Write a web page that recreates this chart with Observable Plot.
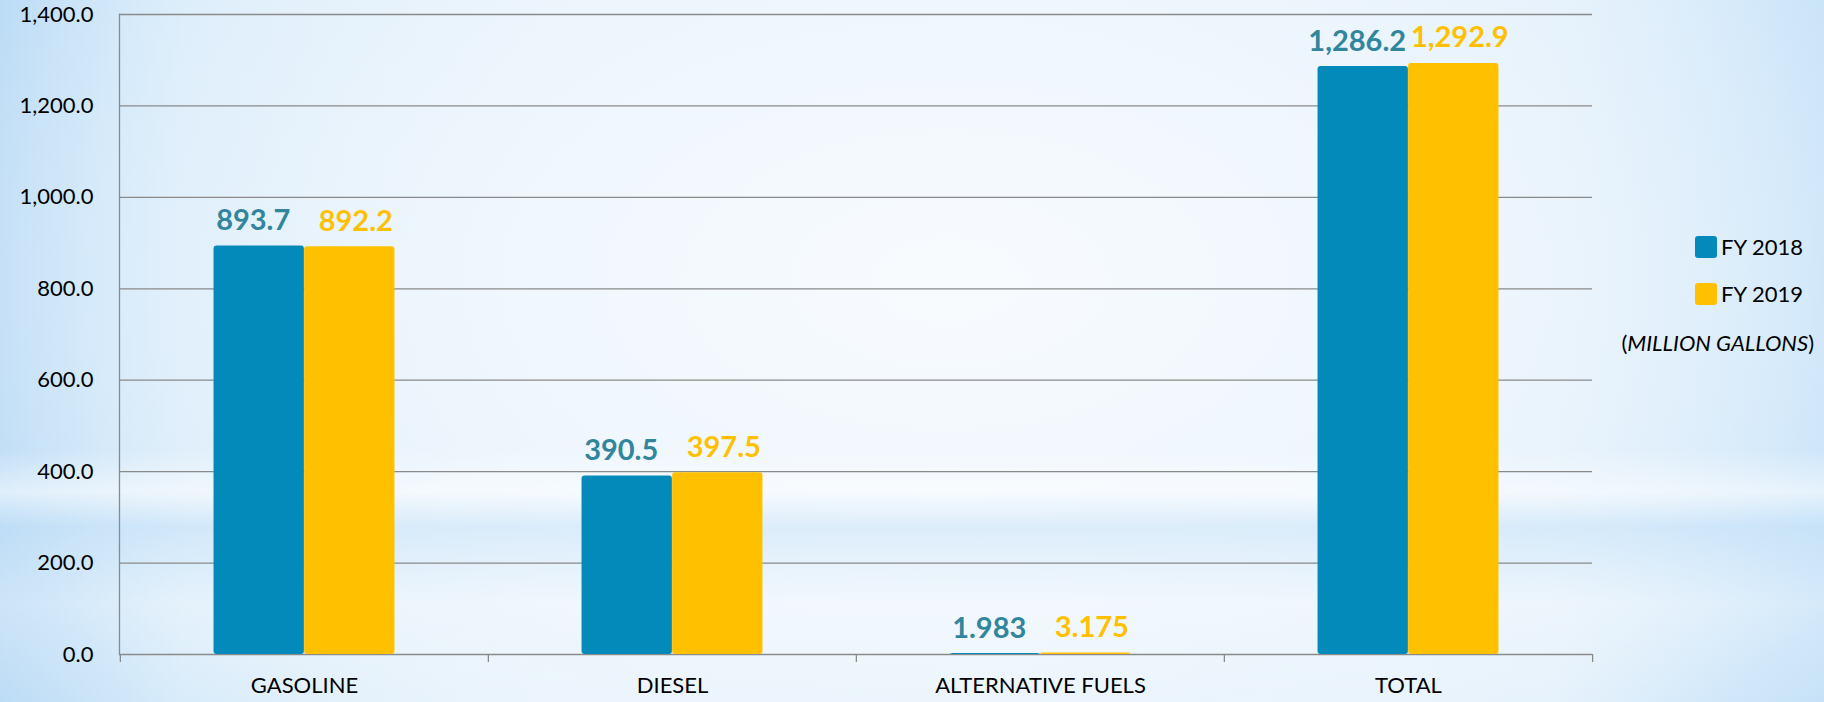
<!DOCTYPE html>
<html>
<head>
<meta charset="utf-8">
<script src="https://cdn.jsdelivr.net/npm/d3@7"></script>
<script src="https://cdn.jsdelivr.net/npm/@observablehq/plot@0.6"></script>
<style>
  html, body { margin: 0; padding: 0; }
  #wrap {
    position: relative; width: 1824px; height: 702px; overflow: hidden;
    font-family: Lato, "Open Sans", sans-serif;
    background:
      linear-gradient(180deg, rgba(255,255,255,0) 0%, rgba(255,255,255,0) 64%, rgba(255,255,255,0.5) 70%, rgba(190,222,247,0.4) 75%, rgba(255,255,255,0.25) 86%, rgba(255,255,255,0) 100%),
      radial-gradient(ellipse 58% 85% at 52% 40%, #f8fbfe 0%, #f0f7fd 40%, rgba(232,243,252,0.6) 70%, rgba(232,243,252,0) 100%),
      linear-gradient(90deg, #bcdcf6 0%, #d9ecfa 10%, #eef6fd 30%, #f3f9fe 55%, #e6f2fc 85%, #c6e2f8 100%);
  }
  #chart { position: absolute; left: 0; top: 0; }
  .legend { position: absolute; font-size: 22px; color: #000; }
  .legend .item { position: absolute; white-space: nowrap; display: flex; align-items: center; }
  .legend .sw { width: 22px; height: 22px; border-radius: 3px; margin-right: 4px; }
  .unit { position: absolute; font-size: 22px; white-space: nowrap; color: #000; }
</style>
</head>
<body>
<div id="wrap">
  <div id="chart"></div>
</div>
<script>
const categories = ["GASOLINE", "DIESEL", "ALTERNATIVE FUELS", "TOTAL"];
const series = ["FY 2018", "FY 2019"];
const fy2018 = [893.7, 390.5, 1.983, 1286.2];
const fy2019 = [892.2, 397.5, 3.175, 1292.9];
const yTicks = [0, 200, 400, 600, 800, 1000, 1200, 1400];
const unitLabel = "MILLION GALLONS";

const barColors = ["#0489BB", "#FFC000"];
const labelColors = ["#31859C", "#FFC000"];

const rows = [fy2018, fy2019].map(vals => categories.map((c, i) => ({category: c, value: vals[i]})));

const W = 1824, H = 702, mL = 119, mR = 232, mT = 14, mB = 48;
const gap = 0.508;                       // share of each category band left empty
const step = (W - mL - mR) / categories.length;
const ext = step * gap / 2;              // empty space on each side of a bar pair
const half = step * (1 - gap) / 2;       // width of one bar
const fmt = d3.format(",");
const gridColor = "#8a8a8a";
const font = "Lato, 'Open Sans', sans-serif";

const barMarks = rows.map((r, i) => Plot.barY(r, {
  x: "category", y: "value", fill: barColors[i], rx: 3,
  insetLeft: ext + i * half, insetRight: ext + (1 - i) * half
}));
const labelMarks = rows.map((r, i) => Plot.text(r, {
  x: "category", y: "value", text: d => fmt(d.value),
  dx: (i === 0 ? -1 : 1) * (half / 2 + 6),
  dy: -16, lineAnchor: "bottom",
  fill: labelColors[i], fontSize: 29, fontWeight: "bold"
}));

const plot = Plot.plot({
  width: W, height: H,
  marginLeft: mL, marginRight: mR, marginTop: mT, marginBottom: mB,
  style: {background: "transparent", fontFamily: font, color: "#000", overflow: "visible"},
  x: {domain: categories, padding: 0, label: null},
  y: {domain: [0, 1400], label: null},
  marks: [
    Plot.ruleY(yTicks, {stroke: gridColor, strokeWidth: 1.3}),
    Plot.frame({anchor: "left", stroke: gridColor, strokeWidth: 1.3}),
    Plot.axisY({ticks: yTicks, tickFormat: ",.1f", tickSize: 0, tickPadding: 26, fontSize: 22, label: null}),
    Plot.axisX({anchor: "bottom", tickSize: 0, tickPadding: 23, fontSize: 22, label: null}),
    Plot.axisX({anchor: "bottom", tickSize: 8, text: null, dx: -step / 2, stroke: gridColor, strokeWidth: 1.3, label: null}),
    Plot.axisX({anchor: "bottom", ticks: [categories[categories.length - 1]], tickSize: 8, text: null, dx: step / 2, stroke: gridColor, strokeWidth: 1.3, label: null}),
    ...barMarks,
    ...labelMarks
  ]
});
document.getElementById("chart").appendChild(plot);

// Legend (HTML, to the right of the plot)
const wrap = document.getElementById("wrap");
const legend = document.createElement("div");
legend.className = "legend";
wrap.appendChild(legend);
series.forEach((s, i) => {
  const item = document.createElement("div");
  item.className = "item";
  item.style.left = "1695px";
  item.style.top = (233 + i * 47) + "px";
  const sw = document.createElement("span");
  sw.className = "sw";
  sw.style.background = barColors[i];
  const t = document.createElement("span");
  t.textContent = s;
  item.appendChild(sw);
  item.appendChild(t);
  legend.appendChild(item);
});
const unit = document.createElement("div");
unit.className = "unit";
unit.style.right = "10px";
unit.style.top = "329px";
unit.innerHTML = "(<i>" + unitLabel + "</i>)";
wrap.appendChild(unit);
</script>
</body>
</html>
